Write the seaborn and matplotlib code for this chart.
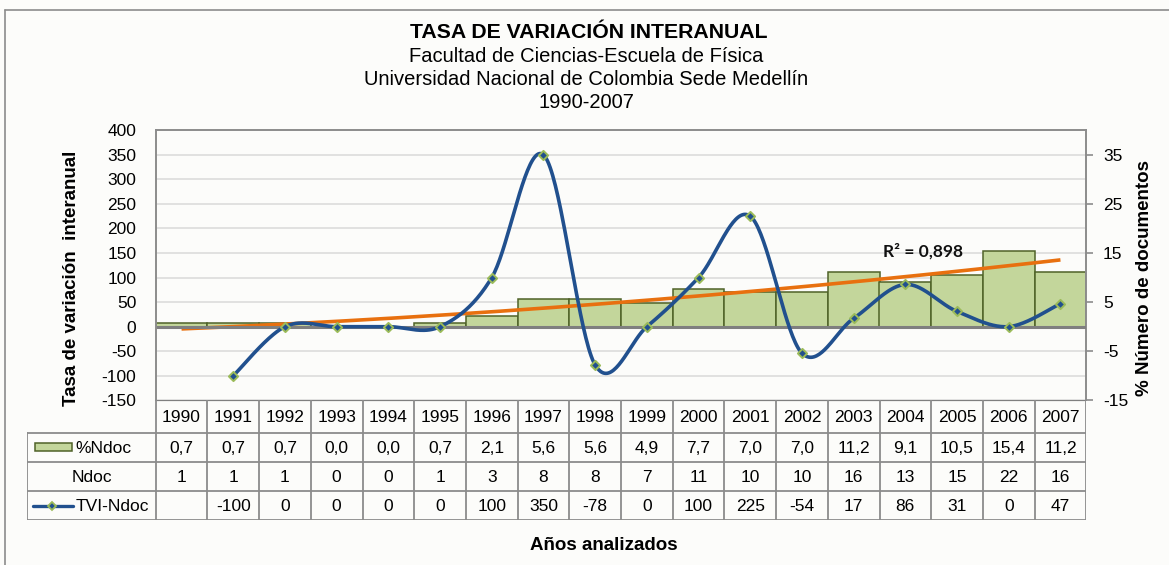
import numpy as np
import pandas as pd
import matplotlib
matplotlib.use("Agg")
import matplotlib.pyplot as plt
import seaborn as sns
from matplotlib.lines import Line2D
from matplotlib.patches import Rectangle
from matplotlib.ticker import MultipleLocator, FixedLocator

# ---------------- data ----------------
years = [1990, 1991, 1992, 1993, 1994, 1995, 1996, 1997, 1998, 1999,
         2000, 2001, 2002, 2003, 2004, 2005, 2006, 2007]
pct_ndoc = [0.7, 0.7, 0.7, 0.0, 0.0, 0.7, 2.1, 5.6, 5.6, 4.9,
            7.7, 7.0, 7.0, 11.2, 9.1, 10.5, 15.4, 11.2]
ndoc = [1, 1, 1, 0, 0, 1, 3, 8, 8, 7, 11, 10, 10, 16, 13, 15, 22, 16]
tvi_ndoc = [None, -100, 0, 0, 0, 0, 100, 350, -78, 0,
            100, 225, -54, 17, 86, 31, 0, 47]
left_ticks = [-150, -100, -50, 0, 50, 100, 150, 200, 250, 300, 350, 400]
right_ticks = [-15, -5, 5, 15, 25, 35]
r2_label = "R² = 0,898"
title = "TASA DE VARIACIÓN INTERANUAL"
subtitles = ["Facultad de Ciencias-Escuela de Física",
             "Universidad Nacional de Colombia Sede Medellín",
             "1990-2007"]
ylabel_left = "Tasa de variación  interanual"
ylabel_right = "% Número de documentos"
xlabel = "Años analizados"
row_names = ["%Ndoc", "Ndoc", "TVI-Ndoc"]

# ---------------- style ----------------
sns.set_style("white")
plt.rcParams["font.family"] = ["Liberation Sans", "DejaVu Sans"]
plt.rcParams["axes.unicode_minus"] = False

W, H = 1169, 565
fig = plt.figure(figsize=(W / 100, H / 100), dpi=100)
fig.patch.set_facecolor("#FCFCFA")

GRAY = "#8C8C8C"
BAR_FC = "#C3D69B"
BAR_EC = "#4F6228"
BLUE = "#21508E"
ORANGE = "#E8700F"
MK_EC = "#9BBB59"
TXT = "#000000"
TICK_FS = 12.5
TAB_FS = 12.5

# plot-area geometry (pixels)
L, R, T, B = 155.7, 1086.3, 130.3, 400.3
n = len(years)
cw = (R - L) / n

ax = fig.add_axes([L / W, 1 - B / H, (R - L) / W, (B - T) / H])
ax2 = ax.twinx()
ax.set_zorder(ax2.get_zorder() + 1)
ax.patch.set_visible(False)
ax2.set_facecolor("#FDFDFC")

# bars (secondary axis)
df = pd.DataFrame({"year": years, "pct": pct_ndoc})
sns.barplot(data=df, x="year", y="pct", ax=ax2, width=1.0, color=BAR_FC,
            saturation=1, edgecolor=BAR_EC, linewidth=1.1, zorder=2)

# trendline (polynomial fit of bars)
xs = np.arange(n)
coef = np.polyfit(xs + 1, np.array(pct_ndoc), 2)
xf = np.linspace(0, n - 1, 200)
ax2.plot(xf, np.polyval(coef, xf + 1), color=ORANGE, lw=2.6, zorder=4,
         solid_capstyle="butt")
ax2.text(13.57, 15.4, r2_label, ha="left", va="center", fontsize=12.5,
         fontweight="bold", family=["Lato", "DejaVu Sans"], color="#111111",
         zorder=6)

ax2.set_ylim(-15, 40)
ax2.yaxis.set_major_locator(FixedLocator(right_ticks))
ax2.yaxis.set_minor_locator(MultipleLocator(5))
ax2.grid(which="both", axis="y", color="#D9D9D9", lw=1.1, zorder=0)
ax2.set_axisbelow(True)
ax2.tick_params(axis="y", which="major", direction="out", length=5,
                width=1.2, color=GRAY, labelsize=TICK_FS, pad=7, right=True,
                labelcolor=TXT)
ax2.tick_params(axis="y", which="minor", length=0)
ax2.set_ylabel(ylabel_right, fontsize=13.5, fontweight="bold", color=TXT)
ax2.yaxis.set_label_coords(1.0535, 0.453)
ax2.set_xlabel("")

# smoothed TVI line (primary axis) - Excel-style Bezier smoothing
pts = [(i, v) for i, v in enumerate(tvi_ndoc) if v is not None]
px = np.array([p[0] for p in pts], float)
py = np.array([p[1] for p in pts], float)
cx, cy = [], []
t = np.linspace(0, 1, 40)
for i in range(len(px) - 1):
    p0 = (px[i - 1], py[i - 1]) if i > 0 else (px[i], py[i])
    p1 = (px[i], py[i])
    p2 = (px[i + 1], py[i + 1])
    p3 = (px[i + 2], py[i + 2]) if i + 2 < len(px) else (px[i + 1], py[i + 1])
    c1 = (p1[0] + (p2[0] - p0[0]) / 6, p1[1] + (p2[1] - p0[1]) / 6)
    c2 = (p2[0] - (p3[0] - p1[0]) / 6, p2[1] - (p3[1] - p1[1]) / 6)
    bx = (1 - t) ** 3 * p1[0] + 3 * (1 - t) ** 2 * t * c1[0] + 3 * (1 - t) * t ** 2 * c2[0] + t ** 3 * p2[0]
    by = (1 - t) ** 3 * p1[1] + 3 * (1 - t) ** 2 * t * c1[1] + 3 * (1 - t) * t ** 2 * c2[1] + t ** 3 * p2[1]
    cx.extend(bx)
    cy.extend(by)
ax.axhline(0, color="#7F7F7F", lw=2.2, zorder=2)
ax.plot(cx, cy, color=BLUE, lw=2.6, zorder=5, solid_capstyle="round")
sns.scatterplot(x=px, y=py, ax=ax, marker="D", s=22, color=BLUE,
                edgecolor=MK_EC, linewidth=1.4, zorder=6)

ax.set_ylim(-150, 400)
ax.set_yticks(left_ticks)
ax.tick_params(axis="y", length=0, labelsize=TICK_FS, pad=14, labelcolor=TXT)
ax.set_ylabel(ylabel_left, fontsize=13.5, fontweight="bold", color=TXT)
ax.yaxis.set_label_coords(-0.081, 0.453)
for a in (ax, ax2):
    a.set_xlim(-0.5, n - 0.5)
    a.set_xticks([])
    a.set_xlabel("")
for a in (ax, ax2):
    for s in a.spines.values():
        s.set_visible(False)
ax.spines["left"].set_visible(True)
ax.spines["left"].set_color(GRAY)
ax.spines["left"].set_linewidth(1.4)
ax.spines["top"].set_visible(True)
ax.spines["top"].set_color(GRAY)
ax.spines["top"].set_linewidth(1.4)
ax2.spines["right"].set_visible(True)
ax2.spines["right"].set_color(GRAY)
ax2.spines["right"].set_linewidth(1.4)

# ---------------- data table ----------------
TL = 27.3
rows_px = [400.3, 432.7, 461.7, 491.0, 520.0]
tab = fig.add_axes([TL / W, 1 - rows_px[-1] / H, (R - TL) / W,
                    (rows_px[-1] - rows_px[0]) / H])
tab.set_xlim(TL, R)
tab.set_ylim(rows_px[-1], rows_px[0])
tab.axis("off")
lk = dict(color=GRAY, lw=1.3, solid_capstyle="projecting")
tab.add_line(Line2D([L, R], [rows_px[0]] * 2, color="#7F7F7F", lw=1.6))
for yv in rows_px[1:]:
    tab.add_line(Line2D([TL, R], [yv, yv], **lk))
for j in range(n + 1):
    xv = L + j * cw
    tab.add_line(Line2D([xv, xv], [rows_px[0], rows_px[-1]], **lk))
tab.add_line(Line2D([TL, TL], [rows_px[1], rows_px[-1]], **lk))

def rc(k):
    return (rows_px[k] + rows_px[k + 1]) / 2

pct_labels = [f"{v:.1f}".replace(".", ",") for v in pct_ndoc]
tvi_labels = ["" if v is None else str(v) for v in tvi_ndoc]
for j in range(n):
    xc = L + (j + 0.5) * cw
    for k, lab in enumerate([str(years[j]), pct_labels[j], str(ndoc[j]), tvi_labels[j]]):
        tab.text(xc, rc(k) + 1, lab, ha="center", va="center",
                 fontsize=TAB_FS, color=TXT)

# row labels with legend keys
tab.add_patch(Rectangle((35, rc(1) - 4), 37, 8, facecolor=BAR_FC,
                        edgecolor=BAR_EC, lw=1.1))
tab.text(75, rc(1) + 1, row_names[0], ha="left", va="center",
         fontsize=TAB_FS, color=TXT)
tab.text((TL + L) / 2, rc(2) + 1, row_names[1], ha="center", va="center",
         fontsize=TAB_FS, color=TXT)
tab.add_line(Line2D([33, 73], [rc(3), rc(3)], color=BLUE, lw=2.4))
tab.plot([52], [rc(3)], marker="D", ms=4.2, color=BLUE, mec=MK_EC, mew=1.3)
tab.text(76, rc(3) + 1, row_names[2], ha="left", va="center",
         fontsize=TAB_FS, color=TXT)

# ---------------- titles ----------------
fig.text(589 / W, 1 - 32 / H, title, ha="center", va="center",
         fontsize=15.3, fontweight="bold", color=TXT)
for k, s in enumerate(subtitles):
    fig.text(586 / W, 1 - (57 + k * 22.5) / H, s, ha="center", va="center",
             fontsize=14.5, color=TXT)
fig.text(604 / W, 1 - 546 / H, xlabel, ha="center", va="center",
         fontsize=13.5, fontweight="bold", color=TXT)

# chart-area border (left and top visible)
fig.add_artist(Line2D([5 / W, 5 / W], [0, 1 - 10 / H], color=GRAY, lw=1.2,
                      transform=fig.transFigure))
fig.add_artist(Line2D([5 / W, 1], [1 - 10 / H, 1 - 10 / H], color=GRAY,
                      lw=1.2, transform=fig.transFigure))

fig.savefig("out.png", dpi=100, facecolor=fig.get_facecolor())
